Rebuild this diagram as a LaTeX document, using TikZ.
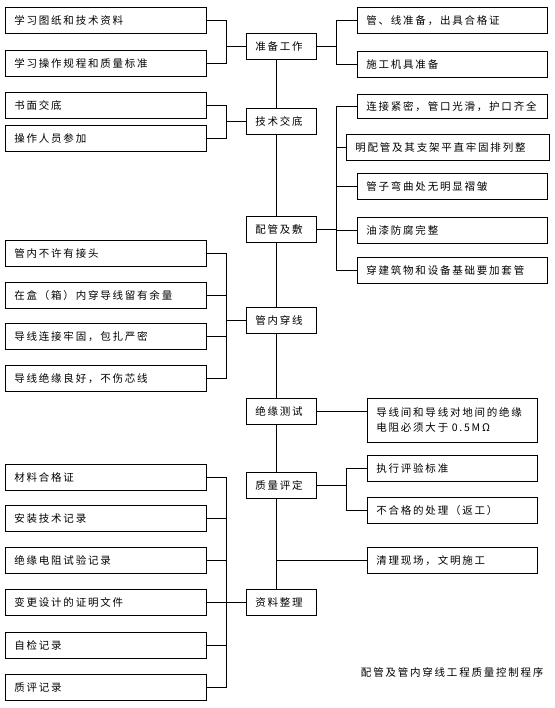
\documentclass[tikz,border=0pt]{standalone}
\usepackage{fontspec}
\setmainfont{Noto Sans CJK SC}[LetterSpace=17]
\usepackage{tikz}
\usetikzlibrary{positioning,calc}
\tikzset{>=latex}
\tikzset{
  box/.style={draw, line width=0.7pt, anchor=north west, align=left,
    minimum height=26pt, inner xsep=9pt, inner ysep=0pt, font=\fontsize{10.5}{15}\selectfont},
  lbox/.style={box, text width=183pt},
  mbox/.style={box, text width=52pt},
  rbox/.style={box, text width=172pt},
  wbox/.style={box, text width=185pt},
  tbox/.style={box, text width=152pt},
  link/.style={line width=0.7pt}
}

\begin{document}
\begin{tikzpicture}[x=1pt,y=-1pt]
  \useasboundingbox (0,0) rectangle (554,708);
  % main column
  \node[mbox] (zb) at (246,33) {准备工作};
  \node[mbox] (jd) at (246,108) {技术交底};
  \node[mbox] (pg) at (246,216) {配管及敷};
  \node[mbox] (cx) at (246,307) {管内穿线};
  \node[mbox] (js) at (246,398) {绝缘测试};
  \node[mbox] (pd) at (246,472) {质量评定};
  \node[mbox] (zl) at (246,589) {资料整理};
  \coordinate (sp) at (276,0);

  % left column
  \node[lbox] (l1) at (5,7) {学习图纸和技术资料};
  \node[lbox] (l2) at (5,50) {学习操作规程和质量标准};
  \node[lbox] (l3) at (5,92) {书面交底};
  \node[lbox] (l4) at (5,125) {操作人员参加};
  \node[lbox] (l5) at (5,240) {管内不许有接头};
  \node[lbox] (l6) at (5,282) {在盒（箱）内穿导线留有余量};
  \node[lbox] (l7) at (5,323) {导线连接牢固，包扎严密};
  \node[lbox] (l8) at (5,365) {导线绝缘良好，不伤芯线};
  \node[lbox] (l9) at (5,464) {材料合格证};
  \node[lbox] (l10) at (5,505) {安装技术记录};
  \node[lbox] (l11) at (5,547) {绝缘电阻试验记录};
  \node[lbox] (l12) at (5,589) {变更设计的证明文件};
  \node[lbox] (l13) at (5,632) {自检记录};
  \node[lbox] (l14) at (5,674) {质评记录};

  % right column
  \node[rbox] (r1) at (357,7) {管、线准备，出具合格证};
  \node[rbox] (r2) at (357,51) {施工机具准备};
  \node[rbox, minimum height=24pt] (r3) at (357,94) {连接紧密，管口光滑，护口齐全};
  \node[wbox] (r4) at (346,134) {明配管及其支架平直牢固排列整};
  \node[rbox] (r5) at (357,173) {管子弯曲处无明显褶皱};
  \node[rbox] (r6) at (357,217) {油漆防腐完整};
  \node[rbox] (r7) at (357,257) {穿建筑物和设备基础要加套管};
  \node[tbox, minimum height=44pt] (r8) at (367,398) {导线间和导线对地间的绝缘\\电阻必须大于 0.5MΩ};
  \node[tbox] (r9) at (367,455) {执行评验标准};
  \node[tbox] (r10) at (367,497) {不合格的处理（返工）};
  \node[tbox] (r11) at (367,547) {清理现场，文明施工};

  \node[anchor=east, font=\fontsize{10.5}{12}\selectfont] (cap) at (547,672) {配管及管内穿线工程质量控制程序};

  % spine
  \foreach \a/\b in {zb/jd, jd/pg, pg/cx, cx/js, js/pd, pd/zl}
    \draw[link] (\a.south -| sp) -- (\b.north -| sp);

  % branches to the left
  \foreach \m/\c in {zb/l1, zb/l2, jd/l3, jd/l4, cx/l5, cx/l6, cx/l7, cx/l8,
                     zl/l9, zl/l10, zl/l11, zl/l12, zl/l13, zl/l14}
    \draw[link] (\m.west) -- ++(-20,0) |- (\c.east);

  % branches to the right
  \foreach \m/\c in {zb/r1, zb/r2, pg/r3, pg/r4, pg/r5, pg/r6, pg/r7}
    \draw[link] (\m.east) -- ++(20,0) |- (\c.west);
  \foreach \c in {r9, r10}
    \draw[link] (pd.east) -- ++(30,0) |- (\c.west);
  \draw[link] (js.east) -- (js.east -| r8.west);
  \draw[link] (r11.west) -- (r11.west -| sp);
\end{tikzpicture}
\end{document}
